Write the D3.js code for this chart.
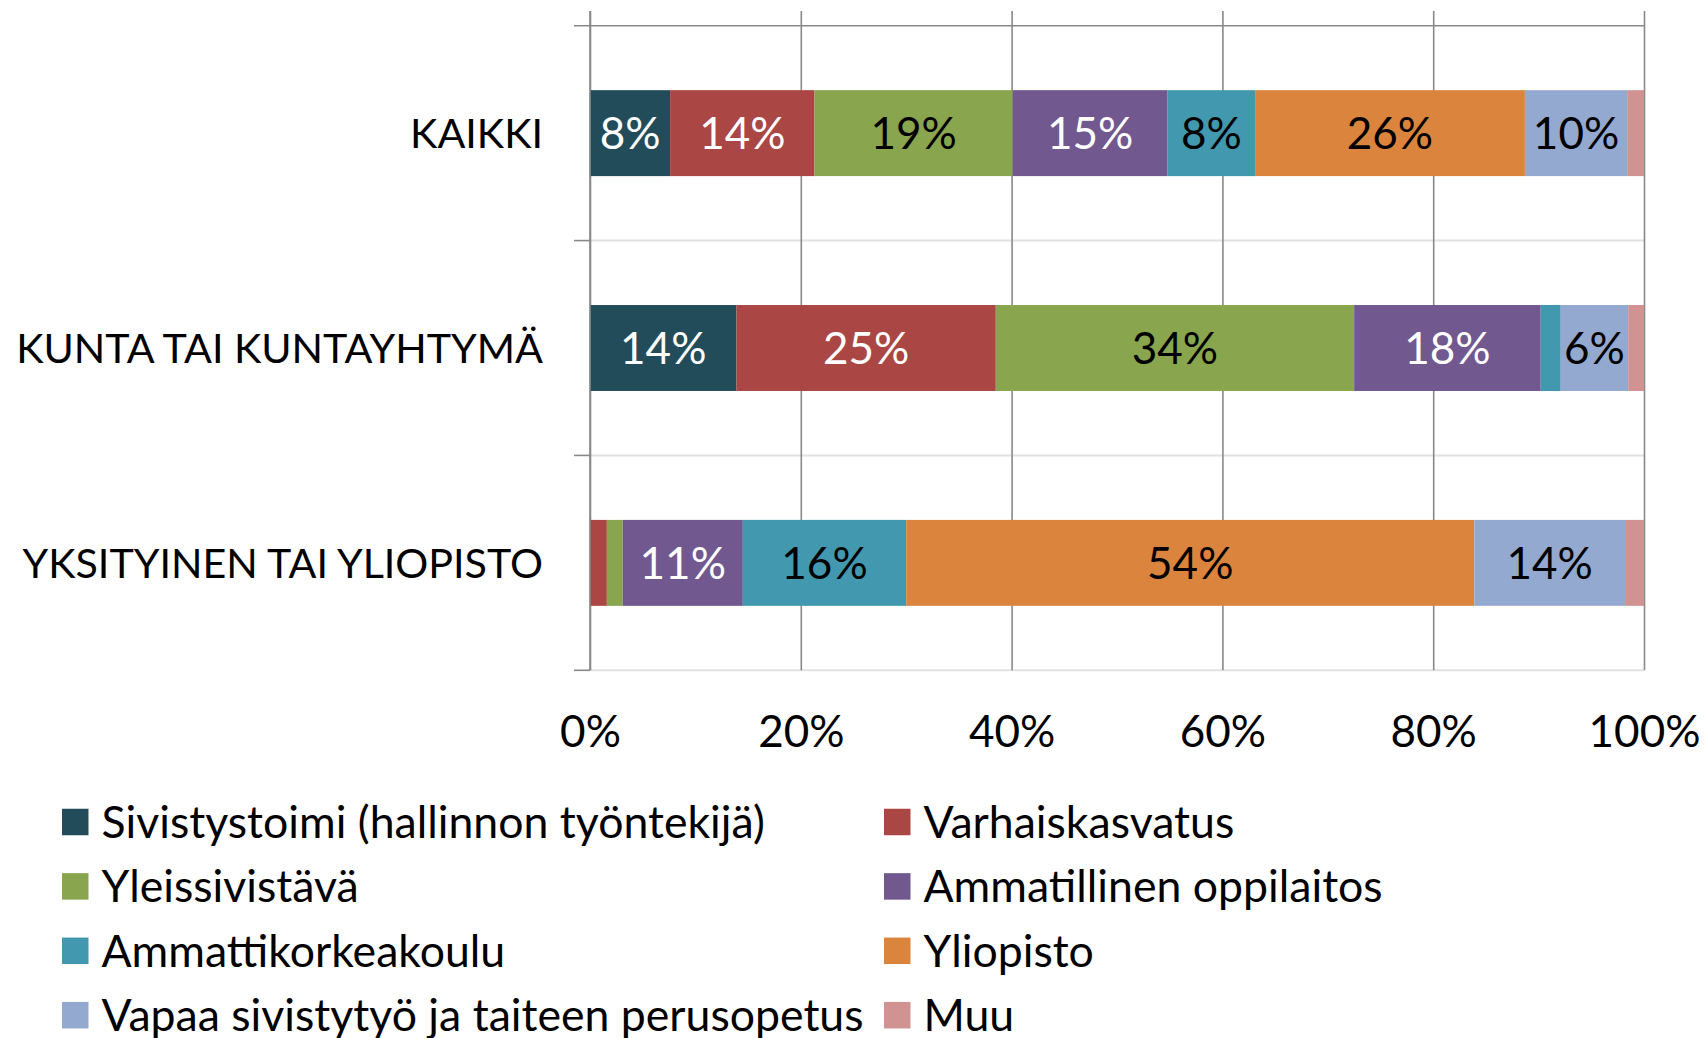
<!DOCTYPE html>
<html>
<head>
<meta charset="utf-8">
<script src="https://cdn.jsdelivr.net/npm/d3@7"></script>
<style>
  html, body { margin: 0; padding: 0; background: #fff; }
  svg { display: block; }
  text { font-family: Lato, "Open Sans", sans-serif; }
</style>
</head>
<body>
<svg id="chart" width="1704" height="1038"></svg>
<script>
// ---- Data ----
const categories = ["KAIKKI", "KUNTA TAI KUNTAYHTYMÄ", "YKSITYINEN TAI YLIOPISTO"];
const seriesNames = [
  "Sivistystoimi (hallinnon työntekijä)",
  "Varhaiskasvatus",
  "Yleissivistävä",
  "Ammatillinen oppilaitos",
  "Ammattikorkeakoulu",
  "Yliopisto",
  "Vapaa sivistytyö ja taiteen perusopetus",
  "Muu"
];
const seriesColors = ["#234C5B", "#AA4643", "#89A54E", "#71588F", "#4198AF", "#DB843D", "#93A9CF", "#D19392"];
const labelColors  = ["#ffffff", "#ffffff", "#000000", "#ffffff", "#000000", "#000000", "#000000", "#000000"];

const sivistystoimi   = [7.6, 13.9, 0];
const varhaiskasvatus = [13.7, 24.6, 1.6];
const yleissivistava  = [18.8, 34.0, 1.5];
const ammatillinen    = [14.7, 17.7, 11.4];
const amk             = [8.3, 1.9, 15.5];
const yliopisto       = [25.6, 0, 53.9];
const vapaa           = [9.7, 6.4, 14.3];
const muu             = [1.6, 1.5, 1.8];
const seriesValues = [sivistystoimi, varhaiskasvatus, yleissivistava, ammatillinen, amk, yliopisto, vapaa, muu];

const xTicks = [0, 0.2, 0.4, 0.6, 0.8, 1.0];
const xTickLabels = ["0%", "20%", "40%", "60%", "80%", "100%"];

// ---- Layout ----
const FS = 44;
const LEGEND_FS = 44.6;
const plot = { left: 590, right: 1644, top: 25.7, bottom: 670.3, gridTop: 11 };
const gridColor = "#898989";
const sepColor = "#e2e2e2";

const svg = d3.select("#chart");

// table for stacking
const rows = categories.map((c, i) => {
  const r = { category: c };
  seriesNames.forEach((s, j) => { r[s] = seriesValues[j][i]; });
  return r;
});
const stacked = d3.stack().keys(seriesNames).offset(d3.stackOffsetExpand)(rows);

const x = d3.scaleLinear().domain([0, 1]).range([plot.left, plot.right]);
const y = d3.scaleBand().domain(categories).range([plot.top, plot.bottom]).padding(0);
const barFrac = 0.4;

// category separators (light) across plot
const boundaries = categories.map((c) => y(c) + y.bandwidth());
svg.append("g").selectAll("line").data(boundaries).join("line")
  .attr("x1", plot.left).attr("x2", plot.right)
  .attr("y1", d => d).attr("y2", d => d)
  .attr("stroke", sepColor).attr("stroke-width", 2);

// vertical gridlines via axis
const gridAxis = d3.axisBottom(x).tickValues(xTicks).tickSize(-(plot.bottom - plot.gridTop)).tickFormat("");
const gG = svg.append("g").attr("transform", `translate(0,${plot.bottom})`).call(gridAxis);
gG.select(".domain").remove();
gG.selectAll(".tick line").attr("stroke", gridColor).attr("stroke-width", 1.6);

// top dark line
svg.append("line")
  .attr("x1", plot.left - 16).attr("x2", plot.right)
  .attr("y1", plot.top).attr("y2", plot.top)
  .attr("stroke", gridColor).attr("stroke-width", 1.6);

// left axis ticks at boundaries
svg.append("g").selectAll("line").data(boundaries).join("line")
  .attr("x1", plot.left - 16).attr("x2", plot.left)
  .attr("y1", d => d).attr("y2", d => d)
  .attr("stroke", gridColor).attr("stroke-width", 1.6);

// bars
const segG = svg.append("g");
stacked.forEach((layer, j) => {
  segG.append("g").attr("fill", seriesColors[j])
    .selectAll("rect").data(layer).join("rect")
    .attr("x", d => x(d[0]))
    .attr("width", d => Math.max(0, x(d[1]) - x(d[0])))
    .attr("y", d => y(d.data.category) + y.bandwidth() * (1 - barFrac) / 2)
    .attr("height", y.bandwidth() * barFrac);
});

// data labels
stacked.forEach((layer, j) => {
  segG.append("g").selectAll("text").data(layer.filter(d => d.data[seriesNames[j]] >= 4)).join("text")
    .attr("x", d => (x(d[0]) + x(d[1])) / 2)
    .attr("y", d => y(d.data.category) + y.bandwidth() / 2)
    .attr("dy", "0.36em")
    .attr("text-anchor", "middle")
    .attr("font-size", FS)
    .attr("fill", labelColors[j])
    .text(d => Math.round(d.data[seriesNames[j]]) + "%");
});

// left axis line (drawn on top)
svg.append("line")
  .attr("x1", plot.left).attr("x2", plot.left)
  .attr("y1", plot.gridTop).attr("y2", plot.bottom)
  .attr("stroke", gridColor).attr("stroke-width", 1.6);

// category labels via axis
const yAxis = d3.axisLeft(y).tickSize(0).tickPadding(47);
const yG = svg.append("g").attr("transform", `translate(${plot.left},0)`).call(yAxis);
yG.select(".domain").remove();
const catTexts = yG.selectAll("text").attr("font-size", FS).attr("font-family", "Lato, 'Open Sans', sans-serif")
  .attr("fill", "#000").attr("dy", "0.36em");
// fit the longest label to the reference width
let maxW = 0;
catTexts.each(function () { maxW = Math.max(maxW, this.getComputedTextLength()); });
const targetW = 527;
if (maxW > targetW) catTexts.attr("font-size", FS * targetW / maxW);

// x tick labels via axis
const xAxis = d3.axisBottom(x).tickValues(xTicks).tickSize(0).tickPadding(45)
  .tickFormat((d, i) => xTickLabels[i]);
const xG = svg.append("g").attr("transform", `translate(0,${plot.bottom})`).call(xAxis);
xG.select(".domain").remove();
xG.selectAll("text").attr("font-size", FS).attr("font-family", "Lato, 'Open Sans', sans-serif")
  .attr("fill", "#000");

// legend
const legendCols = [62, 884];
const legendRow0 = 822, legendRowStep = 64.4, sw = 26.5;
const lg = svg.append("g");
seriesNames.forEach((s, j) => {
  const col = j % 2, row = Math.floor(j / 2);
  const cx = legendCols[col], cy = legendRow0 + row * legendRowStep;
  lg.append("rect").attr("x", cx).attr("y", cy - sw / 2).attr("width", sw).attr("height", sw)
    .attr("fill", seriesColors[j]);
  lg.append("text").attr("x", cx + 39.5).attr("y", cy).attr("dy", "0.36em")
    .attr("font-size", LEGEND_FS).attr("fill", "#000").text(s);
});
</script>
</body>
</html>
